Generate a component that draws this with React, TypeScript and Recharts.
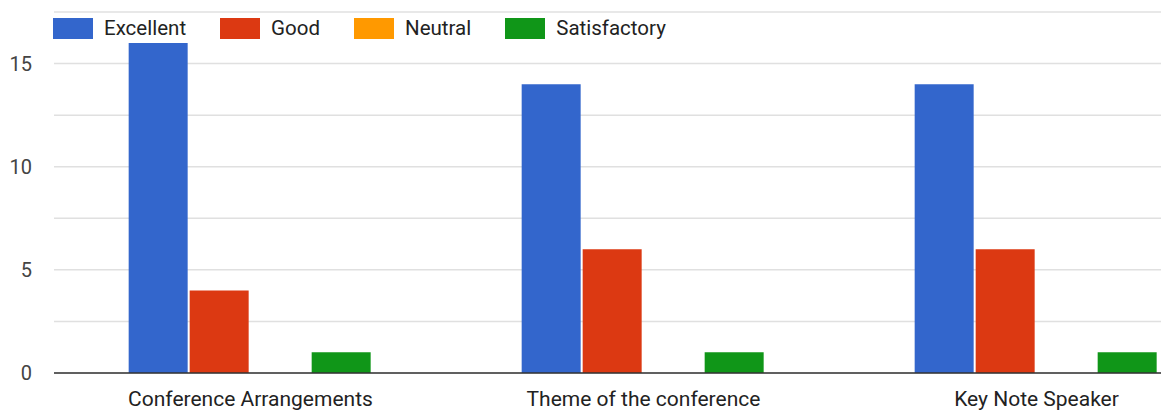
import { Bar, BarChart, CartesianGrid, XAxis, YAxis } from 'recharts';

const categories = ['Conference Arrangements', 'Theme of the conference', 'Key Note Speaker'];
const excellent = [16, 14, 14];
const good = [4, 6, 6];
const neutral = [0, 0, 0];
const satisfactory = [1, 1, 1];
const yTicks = [0, 2.5, 5, 7.5, 10, 12.5, 15, 17.5];
const yLabels = [0, 5, 10, 15];

const series = [
  { key: 'excellent', name: 'Excellent', color: '#3366cc' },
  { key: 'good', name: 'Good', color: '#dc3912' },
  { key: 'neutral', name: 'Neutral', color: '#ff9900' },
  { key: 'satisfactory', name: 'Satisfactory', color: '#109618' },
];

const data = categories.map((name, i) => ({
  name,
  excellent: excellent[i],
  good: good[i],
  neutral: neutral[i],
  satisfactory: satisfactory[i],
}));

const font = 'Roboto, Arial, sans-serif';

// legend sits over the plot, like the original
function LegendBox() {
  return (
    <div
      style={{
        position: 'absolute',
        top: 16,
        left: 53,
        display: 'flex',
        alignItems: 'center',
        fontFamily: font,
        fontSize: 20.5,
        color: '#222',
        background: '#fff',
      }}
    >
      {series.map(s => (
        <div key={s.key} style={{ display: 'flex', alignItems: 'center', marginRight: 34 }}>
          <span style={{ display: 'inline-block', width: 40, height: 21, background: s.color, marginRight: 11 }} />
          <span>{s.name}</span>
        </div>
      ))}
    </div>
  );
}

export default function App() {
  return (
    <div style={{ position: 'fixed', top: 0, left: 0, width: 1161, height: 412, overflow: 'hidden', background: '#fff' }}>
      <BarChart
        width={1240}
        height={412}
        data={data}
        margin={{ top: 12, right: 7, bottom: 9, left: 0 }}
        barCategoryGap="19%"
        barGap={2}
      >
        <CartesianGrid vertical={false} stroke="#e0e0e0" strokeWidth={1.5} />
        <XAxis
          dataKey="name"
          height={30}
          axisLine={{ stroke: '#333', strokeWidth: 1.5 }}
          tickLine={false}
          tickSize={0}
          tickMargin={18}
          tick={{ fill: '#222', fontSize: 21, fontFamily: font }}
          interval={0}
        />
        <YAxis
          width={54}
          domain={[0, 17.5]}
          ticks={yTicks}
          interval={0}
          axisLine={false}
          tickLine={false}
          tickSize={0}
          tickMargin={22}
          tick={{ fill: '#444', fontSize: 20, fontFamily: font }}
          tickFormatter={(v: number) => (yLabels.includes(v) ? String(v) : '')}
        />
        {series.map(s => (
          <Bar key={s.key} dataKey={s.key} name={s.name} fill={s.color} isAnimationActive={false} />
        ))}
      </BarChart>
      <LegendBox />
    </div>
  );
}
